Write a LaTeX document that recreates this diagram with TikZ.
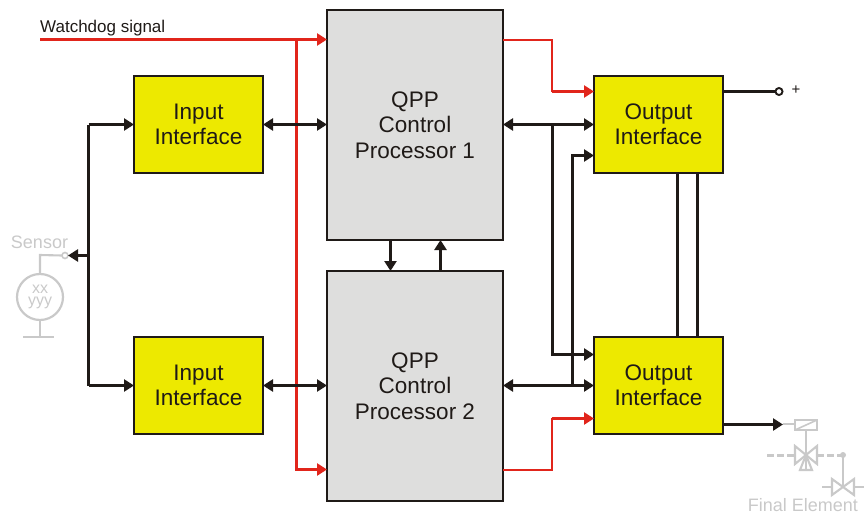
\documentclass[tikz,border=0pt]{standalone}
\usepackage{fontspec}
\setmainfont{Liberation Sans}
\usetikzlibrary{arrows.meta}
\definecolor{blk}{HTML}{1F1A17}
\definecolor{redl}{HTML}{E1251B}
\definecolor{yel}{HTML}{EDE900}
\definecolor{grayb}{HTML}{DEDEDD}
\definecolor{lg}{HTML}{C9C9C9}
\tikzset{
  x=1pt,y=-1pt,
  tip/.tip={Triangle[length=10pt,width=12pt]},
  boxbase/.style={draw=blk,line width=2.8pt,outer sep=0pt,inner sep=0pt,align=center,text=blk,font=\fontsize{22.5}{25.5}\selectfont},
  iobox/.style={boxbase,fill=yel,minimum width=129pt,minimum height=97pt},
  cpbox/.style={boxbase,fill=grayb,minimum width=176pt,minimum height=230pt},
  bl/.style={draw=blk,line width=2.9pt,line join=miter},
  rd/.style={draw=redl,line width=2.9pt},
  rdthin/.style={draw=redl,line width=2.1pt},
  ar/.style={-tip},
  dar/.style={tip-tip},
  gl/.style={draw=lg,line width=2.1pt},
  pin/.style={circle,draw,fill=white,line width=1.9pt,minimum size=7pt,inner sep=0pt,outer sep=0pt},
}
\begin{document}
\begin{tikzpicture}
\useasboundingbox (0,0) rectangle (868,514);
% boxes
\node[iobox] (in1) at (198.5,124.5) {\raisebox{-1pt}{\parbox{129pt}{\centering Input\\Interface}}};
\node[iobox] (in2) at (198.5,385.5) {\raisebox{-1pt}{\parbox{129pt}{\centering Input\\Interface}}};
\node[cpbox] (cp1) at (415,125) {\raisebox{-1pt}{\parbox{176pt}{\centering QPP\\Control\\Processor 1}}};
\node[cpbox] (cp2) at (415,386) {\raisebox{-1pt}{\parbox{176pt}{\centering QPP\\Control\\Processor 2}}};
\node[iobox] (out1) at (658.5,124.5) {\raisebox{-1pt}{\parbox{129pt}{\centering Output\\Interface}}};
\node[iobox] (out2) at (658.5,385.5) {\raisebox{-1pt}{\parbox{129pt}{\centering Output\\Interface}}};
% named points
\coordinate (wd) at (40,39.5);
\coordinate (busT) at (88.5,124.5);
\coordinate (busB) at (88.5,385.5);
\coordinate (busM) at (88.5,255.5);
\node[pin,draw=lg,minimum size=6pt,line width=1.6pt] (sp) at (65,255.5) {};
% red
\draw[rd,ar] (wd) -- (cp1.west|-wd);
\draw[rd,ar] (296.5,39.5) -- (296.5,469.5) -- (cp2.west|-0,469.5);
\draw[rdthin] (cp1.east|-0,40) -- (552,40) -- (552,92);
\draw[rd,ar] (551.5,91.5) -- (out1.west|-0,91.5);
\draw[rdthin] (cp2.east|-0,470) -- (552,470) -- (552,418);
\draw[rd,ar] (551.5,418.5) -- (out2.west|-0,418.5);
% black
\draw[bl] (busT) -- (busB);
\draw[bl,ar] (busT) -- (in1.west);
\draw[bl,ar] (busB) -- (in2.west);
\draw[bl,ar] (busM) -- (sp.east);
\draw[bl,dar] (in1.east) -- (cp1.west|-in1);
\draw[bl,dar] (in2.east) -- (cp2.west|-in2);
\draw[bl,dar] (cp1.east|-out1) -- (out1.west);
\draw[bl,dar] (cp2.east|-out2) -- (out2.west);
\draw[bl,ar] (552.5,124.5) -- (552.5,354.5) -- (out2.west|-0,354.5);
\draw[bl,ar] (572.5,385.5) -- (572.5,155.5) -- (out1.west|-0,155.5);
\draw[bl] (677.5,173) -- (677.5,337);
\draw[bl] (697.5,173) -- (697.5,337);
\draw[bl,ar] (390.5,240) -- (390.5,271);
\draw[bl,ar] (440.5,271) -- (440.5,240);
\node[pin,draw=blk] (plus) at (779,91.5) {};
\draw[bl] (out1.east|-plus) -- (plus.west);
\node[text=blk,font=\fontsize{15}{15}\selectfont,anchor=center] (plusl) at (796,90.5) {+};
\coordinate (outb) at (723,424.5);
\draw[bl,ar] (outb) -- (783,424.5);
% sensor
\node[text=lg,font=\fontsize{18}{18}\selectfont] (sl) at (39.5,242) {Sensor};
\node[circle,draw=lg,line width=2.2pt,minimum size=46pt,inner sep=0pt,outer sep=0pt] (sc) at (40,297) {};
\node[text=lg,font=\fontsize{16}{12}\selectfont,align=center] (st) at (40,296.5) {xx\\yyy};
\draw[gl] (sp.west) -- (40,255) -- (sc.north);
\draw[gl] (sc.south) -- (40,337);
\draw[gl] (23,337) -- (54,337);
% final element
\draw[gl] (783,424) -- (795,424);
\draw[gl] (795,420) rectangle (817,430);
\draw[gl,line width=1.6pt] (795,430) -- (817,420);
\draw[gl] (806,430) -- (806,470);
\draw[gl,line join=miter] (795,446) -- (817,464) -- (817,446) -- (795,464) -- cycle;
\draw[gl] (800,470) -- (812,470) -- (806,455) -- cycle;
\draw[gl,line width=3pt,dash pattern=on 6.5pt off 3.5pt] (767,455.5) -- (795,455.5);
\draw[gl,line width=3pt,dash pattern=on 6.5pt off 3.5pt] (817,455.5) -- (843,455.5);
\fill[lg] (843,455) circle (3pt);
\draw[gl] (843,455) -- (843,487);
\draw[gl,line join=miter] (832,479) -- (854,495) -- (854,479) -- (832,495) -- cycle;
\draw[gl] (822,487) -- (832,487);
\draw[gl] (854,487) -- (864,487);
\node[text=lg,font=\fontsize{18}{18}\selectfont,inner sep=0pt] (fe) at (803,505) {Final Element};
% title
\node[text=blk,font=\fontsize{17}{17}\selectfont,anchor=base west,inner sep=0pt] (wl) at (40,32.5) {Watchdog signal};
\end{tikzpicture}
\end{document}
